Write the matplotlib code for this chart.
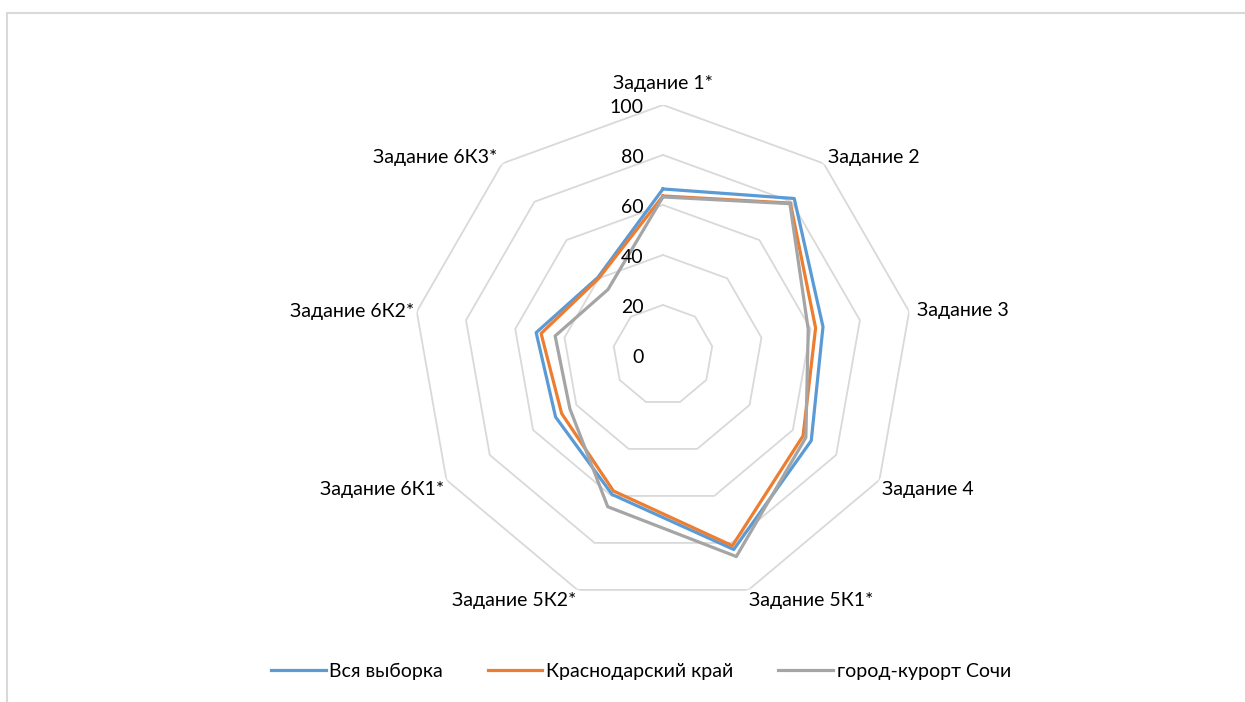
import numpy as np
import matplotlib
matplotlib.use("Agg")
from matplotlib import pyplot as plt
from matplotlib.patches import Rectangle

plt.rcParams['font.family'] = ['Lato', 'DejaVu Sans']

# data
categories = ['Задание 1*', 'Задание 2', 'Задание 3', 'Задание 4', 'Задание 5К1*',
              'Задание 5К2*', 'Задание 6К1*', 'Задание 6К2*', 'Задание 6К3*']
vsya = [66.4, 81.7, 65.0, 68.5, 82.8, 59.4, 49.6, 51.5, 40.5]
krasnodar = [63.6, 79.3, 62.0, 64.7, 81.2, 57.9, 46.8, 49.5, 40.0]
sochi = [63.2, 79.0, 59.0, 66.0, 85.8, 64.6, 43.0, 43.8, 34.2]
series_names = ['Вся выборка', 'Краснодарский край', 'город-курорт Сочи']
series_colors = ['#5b9bd5', '#ed7d31', '#a5a5a5']
levels = [0, 20, 40, 60, 80, 100]

n = len(categories)
theta = np.linspace(0, 2 * np.pi, n, endpoint=False)
theta_c = np.append(theta, theta[0])

fig = plt.figure(figsize=(12.45, 7.02), dpi=100)
fig.patches.append(Rectangle((7 / 1245, -0.1), 1.1, 1.1 - 13 / 702,
                             transform=fig.transFigure, fill=False,
                             edgecolor='#d9d9d9', linewidth=1.5))

ax = fig.add_axes([0.3317, 0.1382, 0.4016, 0.7123], projection='polar')
ax.set_theta_zero_location('N')
ax.set_theta_direction(-1)
ax.set_ylim(0, 100)
ax.grid(False)
ax.spines['polar'].set_visible(False)
ax.set_xticks([])
ax.set_yticks([])
ax.patch.set_alpha(0)

# polygon grid (no spokes)
for lv in levels[1:]:
    ax.plot(theta_c, [lv] * (n + 1), color='#d9d9d9', lw=1.3, zorder=1)

# radial labels
for lv in levels:
    ax.annotate(str(lv), xy=(0, lv), xytext=(-14, -1.5), textcoords='offset points',
                ha='right', va='center', fontsize=14, color='#000000', zorder=5,
                annotation_clip=False)

# category labels
for t, lab in zip(theta, categories):
    deg = np.degrees(t)
    if deg < 1:
        ha, va, r = 'center', 'bottom', 105
    elif deg < 90:
        ha, va, r = 'left', 'center', 103
    elif deg < 100:
        ha, va, r = 'left', 'center', 101
    elif deg < 180:
        ha, va, r = 'left', 'top', 101
    elif deg < 260:
        ha, va, r = 'right', 'top', 101
    elif deg < 290:
        ha, va, r = 'right', 'center', 101
    else:
        ha, va, r = 'right', 'center', 103
    ax.text(t, r, lab, ha=ha, va=va, fontsize=14, color='#000000')

for vals, name, col in zip([vsya, krasnodar, sochi], series_names, series_colors):
    ax.plot(theta_c, vals + vals[:1], color=col, lw=2.3, label=name, zorder=3)

fig.legend(loc='center', bbox_to_anchor=(641 / 1245, 31 / 702),
           ncol=3, frameon=False, fontsize=14, handlelength=2.8,
           handletextpad=0.2, columnspacing=2.3)

plt.savefig('out.png', dpi=100)
